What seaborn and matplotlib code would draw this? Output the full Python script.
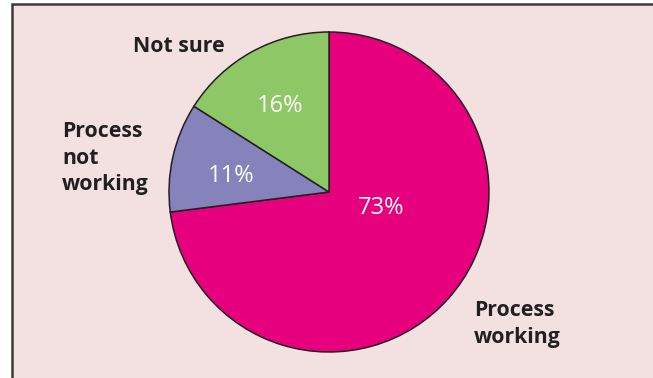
import matplotlib
matplotlib.use("Agg")
import matplotlib.pyplot as plt
import seaborn as sns
from matplotlib.patches import Rectangle

categories = ["Process working", "Process not working", "Not sure"]
values = [73, 11, 16]
pct_labels = ["73%", "11%", "16%"]
display_labels = ["Process\nworking", "Process\nnot\nworking", "Not sure"]
colors = ["#e6007e", "#8582bc", "#8dc766"]

sns.set_theme(style="white")
plt.rcParams["font.family"] = ["Open Sans", "DejaVu Sans"]

W, H = 653, 378
fig = plt.figure(figsize=(W / 100, H / 100), dpi=100)
fig.patch.set_facecolor("white")

ax = fig.add_axes([0, 0, 1, 1])
ax.axis("off")
ax.patch.set_alpha(0)

# background panel with frame
ax.add_patch(Rectangle((12, -20), W + 20, H - 4 + 20, facecolor="#f3e1e2",
                       edgecolor="#3c3a3b", linewidth=1.8, zorder=0,
                       clip_on=False))

cx, cy, r = 329, H - 192, 160
wedges, _ = ax.pie(values, colors=colors, startangle=90, counterclock=False,
                   center=(cx, cy), radius=r,
                   wedgeprops=dict(edgecolor="#231f20", linewidth=1.1, zorder=2))
ax.set_xlim(0, W)
ax.set_ylim(0, H)
ax.set_aspect("equal")

pct_pos = [(381, 208), (231, 176), (280, 106)]
for t, (px, py) in zip(pct_labels, pct_pos):
    ax.text(px, H - py, t, color="white", fontsize=17, ha="center", va="center", zorder=3)

lab_pos = [(474, 324, "left"), (62, 158, "left"), (133, 47, "left")]
for t, (px, py, ha) in zip(display_labels, lab_pos):
    ax.text(px, H - py, t, color="#231f20", fontsize=15.3, fontweight="bold",
            ha=ha, va="center", linespacing=1.32, zorder=3)

fig.savefig("out.png", dpi=100, facecolor=fig.get_facecolor())
